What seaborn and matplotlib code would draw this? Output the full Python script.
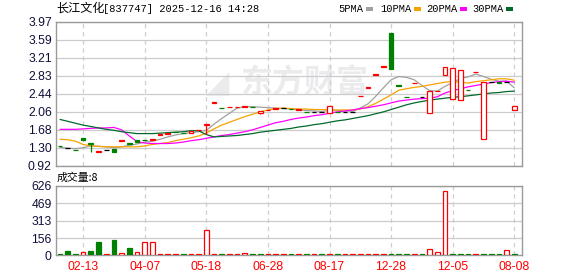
import numpy as np
import pandas as pd
import matplotlib
matplotlib.use("Agg")
import matplotlib.pyplot as plt
from matplotlib.patches import Rectangle
import seaborn as sns

# ---------------- data ----------------
stock_name = "长江文化"
title_rest = "[837747] 2025-12-16 14:28"
vol_label = "成交量:8"
watermark = "东方财富"
date_labels = ["02-13", "04-07", "05-18", "06-28", "08-17", "12-28", "12-05", "08-08"]
date_pos = [3, 11, 19, 27, 35, 43, 51, 59]
price_ticks = [0.92, 1.30, 1.68, 2.06, 2.44, 2.83, 3.21, 3.59, 3.97]
vol_ticks = [0, 156, 313, 469, 626]

opens = [1.34, 1.30, 1.26, 1.50, 1.40, 1.22, 1.25, 1.27, 1.45, 1.40,
         1.46, 1.47, 1.47, 1.57, 1.60, 1.64, 1.62, 1.62, 1.67, 1.79,
         2.25, 2.15, 2.16, 2.16, 2.17, 2.17, 2.03, 2.09, 2.13, 2.14,
         2.13, 2.11, 2.06, 2.06, 2.05, 2.04, 2.06, 2.05, 2.05, 2.39,
         2.57, 2.85, 3.02, 3.74, 2.62, 2.38, 2.67, 2.37, 2.03, 2.50,
         2.84, 2.33, 2.31, 2.53, 2.90, 1.48, 2.69, 2.69, 2.69, 2.10]
closes = [1.33, 1.30, 1.25, 1.46, 1.39, 1.23, 1.25, 1.22, 1.46, 1.39,
          1.42, 1.46, 1.48, 1.585, 1.61, 1.63, 1.61, 1.66, 1.68, 1.797,
          2.26, 2.14, 2.17, 2.17, 2.18, 2.16, 2.08, 2.10, 2.14, 2.14,
          2.12, 2.12, 2.05, 2.06, 2.05, 2.18, 2.05, 2.05, 2.05, 2.40,
          2.58, 2.86, 3.03, 2.97, 2.61, 2.37, 2.68, 2.37, 2.50, 2.51,
          3.00, 2.98, 2.95, 2.52, 2.91, 2.70, 2.69, 2.68, 2.69, 2.18]
highs = [1.34, 1.30, 1.26, 1.50, 1.41, 1.23, 1.25, 1.27, 1.46, 1.40,
         1.46, 1.47, 1.48, 1.585, 1.61, 1.64, 1.62, 1.66, 1.68, 1.80,
         2.26, 2.15, 2.17, 2.17, 2.18, 2.17, 2.08, 2.10, 2.14, 2.14,
         2.13, 2.12, 2.06, 2.06, 2.05, 2.18, 2.06, 2.05, 2.05, 2.40,
         2.58, 2.86, 3.03, 3.74, 2.62, 2.38, 2.68, 2.37, 2.50, 2.51,
         3.00, 2.98, 2.95, 2.53, 2.91, 2.70, 2.69, 2.69, 2.69, 2.18]
lows = [1.33, 1.30, 1.25, 1.46, 1.22, 1.22, 1.25, 1.22, 1.45, 1.39,
        1.42, 1.46, 1.47, 1.57, 1.60, 1.63, 1.61, 1.62, 1.67, 1.60,
        2.25, 2.14, 2.16, 2.16, 2.17, 2.16, 2.01, 2.09, 2.13, 2.14,
        2.12, 2.11, 2.05, 2.06, 2.05, 2.04, 2.05, 2.05, 2.05, 2.39,
        2.57, 2.85, 3.02, 2.97, 2.61, 2.37, 2.67, 2.37, 2.03, 2.50,
        2.84, 2.33, 2.31, 2.52, 2.90, 1.48, 2.69, 2.68, 2.69, 2.10]
volumes = [9, 42, 9, 33, 36, 118, 9, 136, 18, 63,
           33, 118, 118, 8, 8, 8, 8, 8, 8, 233,
           8, 8, 8, 8, 24, 8, 8, 8, 8, 8,
           15, 8, 8, 8, 8, 8, 8, 8, 8, 8,
           8, 8, 8, 8, 15, 8, 8, 8, 60, 33,
           578, 8, 8, 8, 8, 8, 8, 8, 51, 8]
prev_close0 = 1.34

ma5 = [1.31, 1.29, 1.28, 1.30, 1.34, 1.33, 1.32, 1.30, 1.32, 1.35,
       1.38, 1.42, 1.44, 1.48, 1.53, 1.57, 1.60, 1.62, 1.64, 1.67,
       1.80, 1.92, 2.03, 2.14, 2.17, 2.17, 2.16, 2.15, 2.14, 2.13,
       2.12, 2.10, 2.09, 2.08, 2.07, 2.09, 2.09, 2.08, 2.07, 2.14,
       2.23, 2.39, 2.57, 2.74, 2.81, 2.79, 2.74, 2.62, 2.51, 2.50,
       2.60, 2.68, 2.77, 2.80, 2.86, 2.81, 2.75, 2.71, 2.71, 2.57]
ma10 = [1.48, 1.47, 1.44, 1.37, 1.34, 1.33, 1.32, 1.32, 1.32, 1.32,
        1.32, 1.34, 1.37, 1.39, 1.41, 1.45, 1.48, 1.51, 1.55, 1.61,
        1.70, 1.78, 1.84, 1.90, 1.96, 2.01, 2.06, 2.10, 2.13, 2.14,
        2.13, 2.12, 2.12, 2.11, 2.11, 2.10, 2.10, 2.10, 2.10, 2.12,
        2.17, 2.24, 2.33, 2.42, 2.52, 2.55, 2.58, 2.60, 2.63, 2.66,
        2.69, 2.70, 2.69, 2.67, 2.70, 2.72, 2.74, 2.76, 2.76, 2.73]
ma20 = [1.69, 1.69, 1.69, 1.70, 1.71, 1.72, 1.72, 1.73, 1.68, 1.55,
        1.43, 1.40, 1.39, 1.39, 1.39, 1.40, 1.42, 1.45, 1.47, 1.50,
        1.53, 1.56, 1.58, 1.61, 1.64, 1.68, 1.73, 1.78, 1.83, 1.86,
        1.90, 1.93, 1.95, 1.98, 2.00, 2.03, 2.06, 2.08, 2.10, 2.13,
        2.15, 2.18, 2.21, 2.25, 2.29, 2.31, 2.33, 2.34, 2.35, 2.38,
        2.46, 2.51, 2.55, 2.59, 2.62, 2.65, 2.68, 2.70, 2.71, 2.69]
ma30 = [1.90, 1.86, 1.82, 1.78, 1.75, 1.72, 1.69, 1.67, 1.64, 1.62,
        1.60, 1.60, 1.60, 1.61, 1.62, 1.63, 1.64, 1.66, 1.66, 1.58,
        1.53, 1.54, 1.55, 1.56, 1.58, 1.60, 1.63, 1.65, 1.67, 1.69,
        1.71, 1.74, 1.76, 1.79, 1.81, 1.84, 1.87, 1.89, 1.92, 1.95,
        1.98, 2.02, 2.06, 2.11, 2.16, 2.21, 2.25, 2.28, 2.31, 2.33,
        2.35, 2.37, 2.38, 2.40, 2.42, 2.44, 2.46, 2.47, 2.49, 2.50]
ma_names = ["5PMA", "10PMA", "20PMA", "30PMA"]

# ---------------- style ----------------
RED = "#ff0000"
GREEN = "#008000"
ma_colors = {"5PMA": "#a0a0a0", "10PMA": "#f5a300", "20PMA": "#ff00ff", "30PMA": "#006a2e"}

sns.set_theme(style="white")
plt.rcParams["font.family"] = ["Liberation Sans", "Noto Sans CJK SC", "DejaVu Sans"]

W, H = 578, 276
fig = plt.figure(figsize=(W / 100, H / 100), dpi=100)
fig.patch.set_facecolor("white")

L, R = 56, 522
ax = fig.add_axes([L / W, 1 - 165.7 / H, (R - L) / W, 144.0 / H])
axv = fig.add_axes([L / W, 1 - 255.3 / H, (R - L) / W, 69.3 / H])
ax.patch.set_alpha(0)

n = len(closes)
xs = np.arange(n)
XLIM = (-0.52, 60.0)
BW = 0.6

# watermark (behind the axes content)
fig.text(240 / W, 1 - 84 / H, watermark, fontsize=23, fontweight="bold", color="#ebebee",
         ha="left", va="center", zorder=-5, family=["Noto Sans CJK SC"])
fig.text(218 / W, 1 - 84 / H, "◢", fontsize=22, color="#ebebee",
         ha="center", va="center", zorder=-5, family=["DejaVu Sans"])

# moving averages with seaborn
ma_df = pd.DataFrame({"x": np.tile(xs, 4),
                      "v": np.concatenate([ma5, ma10, ma20, ma30]),
                      "s": np.repeat(ma_names, n)})
sns.lineplot(data=ma_df, x="x", y="v", hue="s", palette=ma_colors, ax=ax,
             legend=False, linewidth=0.9, zorder=3)

# candles
for i in range(n):
    o, c, h, l = opens[i], closes[i], highs[i], lows[i]
    if c > o:
        col, fc = RED, "white"
    elif c < o:
        col, fc = GREEN, GREEN
    else:
        col, fc = "black", "black"
    if h > max(o, c) or l < min(o, c):
        ax.vlines(i, l, h, color=col, lw=0.9, zorder=4)
    bot = min(o, c)
    ht = max(abs(c - o), 0.004)
    ax.bar(i, ht, bottom=bot, width=BW, facecolor=fc, edgecolor=col,
           linewidth=0.9, zorder=5)

# volume
pc = [prev_close0] + closes[:-1]
for i in range(n):
    up = closes[i] >= pc[i]
    col = RED if up else GREEN
    axv.bar(i, volumes[i], width=BW, facecolor="white" if up else GREEN,
            edgecolor=col, linewidth=0.9, zorder=3)

# axes styling
for a in (ax, axv):
    a.set_xlim(*XLIM)
    a.set_xticks(date_pos)
    for p in date_pos:
        a.axvline(p, color="#cfcfcf", lw=0.9, ls=(0, (3.5, 3)), zorder=1)
    for s in a.spines.values():
        s.set_color("#9a9a9a")
        s.set_linewidth(1.0)
    a.tick_params(axis="both", length=0, pad=3)
    a.set_xlabel("")
    a.set_ylabel("")

ax.set_ylim(0.92, 3.97)
ax.set_yticks(price_ticks)
ax.set_yticklabels([f"{t:.2f}" for t in price_ticks], fontsize=8.7, color="#10103a")
ax.set_xticklabels([])
ax.yaxis.grid(True, color="#cccccc", lw=0.9)
ax.set_axisbelow(True)

axv.set_ylim(0, 626)
axv.set_yticks(vol_ticks)
axv.set_yticklabels([str(t) for t in vol_ticks], fontsize=8.7, color="#10103a")
axv.set_xticklabels(date_labels, fontsize=8.7, color=RED)
axv.tick_params(axis="x", pad=4)
axv.yaxis.grid(True, color="#cccccc", lw=0.9)
axv.set_axisbelow(True)

# title and labels
fig.text(56 / W, 1 - 8.5 / H, stock_name, fontsize=8.7, va="center", ha="left",
         family=["Noto Sans CJK SC"], color="black")
fig.text(103 / W, 1 - 8.5 / H, title_rest, fontsize=7.5, va="center", ha="left",
         family=["Liberation Mono"], color="black")
fig.text(57 / W, 1 - 177.5 / H, vol_label, fontsize=7.8, va="center", ha="left",
         family=["Noto Sans CJK SC", "DejaVu Sans"], color="black")

# legend
leg_x = [338, 380, 426, 472]
for name, x0 in zip(ma_names, leg_x):
    fig.text(x0 / W, 1 - 9 / H, name, fontsize=7.5, va="center", ha="left",
             family=["Liberation Mono"], color="black")
    tw = len(name) * 6.25
    fig.patches.append(Rectangle(((x0 + tw + 3) / W, 1 - 10.5 / H), 6.5 / W, 3 / H,
                                 transform=fig.transFigure, facecolor=ma_colors[name],
                                 edgecolor="none"))

fig.savefig("out.png", dpi=100, facecolor="white")
